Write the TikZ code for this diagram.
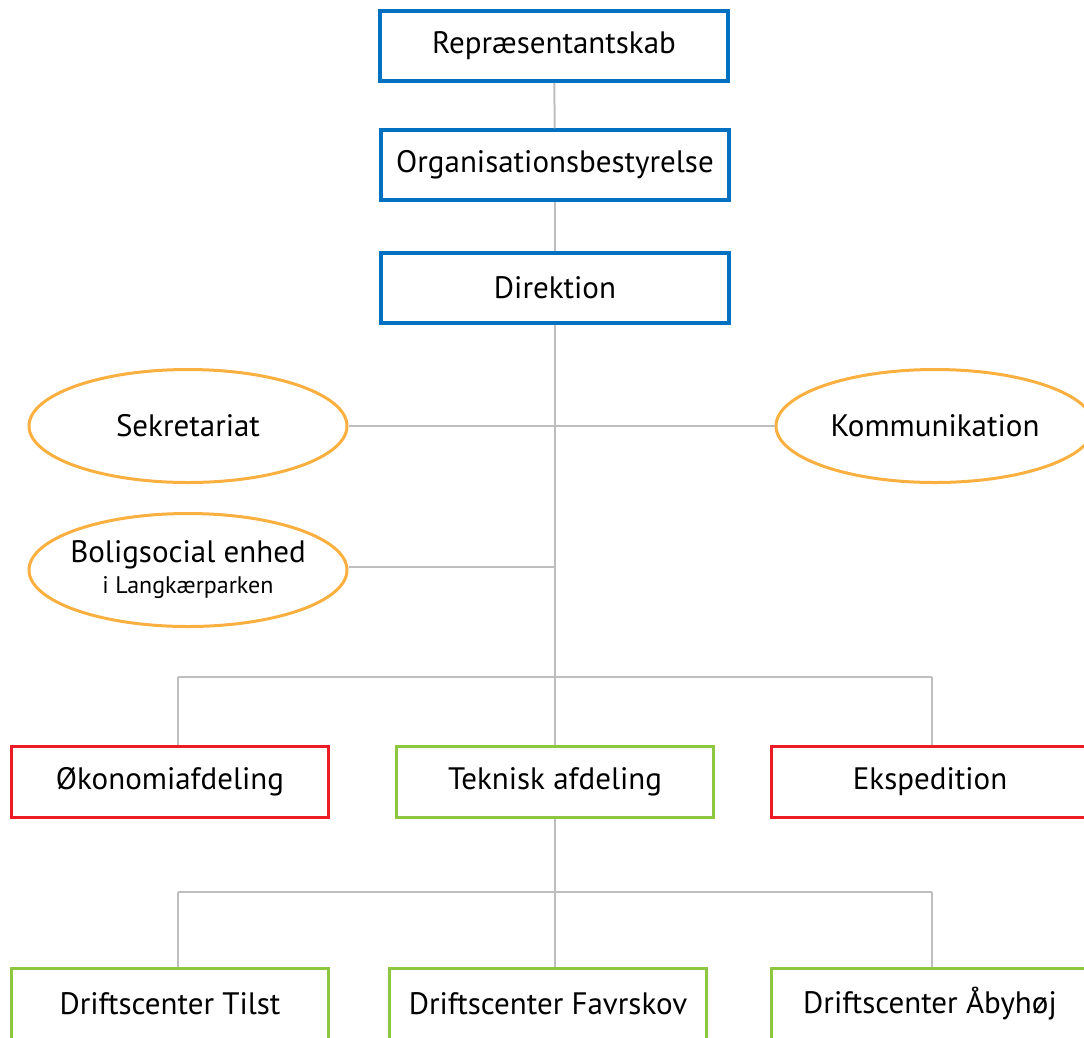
\documentclass[tikz,border=0pt]{standalone}
\usepackage{fontspec}
\setmainfont{PT Sans}
\usetikzlibrary{shapes.geometric}
\definecolor{boardblue}{RGB}{0,112,192}
\definecolor{staffgold}{RGB}{250,176,64}
\definecolor{unitred}{RGB}{237,28,36}
\definecolor{unitgreen}{RGB}{141,198,63}
\definecolor{linegray}{RGB}{190,190,190}

\begin{document}
\begin{tikzpicture}[x=1pt, y=-1pt,
  board/.style = {draw=boardblue, line width=3.5pt, minimum width=348pt, minimum height=70pt, font=\fontsize{31}{36}\selectfont},
  staff/.style = {ellipse, draw=staffgold, line width=3pt, inner xsep=-12pt, minimum width=318pt, minimum height=113pt, align=center, font=\fontsize{31}{36}\selectfont},
  unit/.style  = {draw=#1, line width=3pt, minimum width=317pt, minimum height=71pt, font=\fontsize{31}{36}\selectfont},
  conn/.style  = {draw=linegray, line width=2pt}]
  \clip (0,0) rectangle (1084,1037);
  \useasboundingbox (0,0) rectangle (1084,1037);

  % top of the organisation
  \node[board] (rep) at (554,46)  {Repræsentantskab};
  \node[board] (org) at (555,165) {Organisationsbestyrelse};
  \node[board] (dir) at (555,288) {Direktion};

  % staff functions
  \node[staff] (sek) at (188,426) {Sekretariat};
  \node[staff] (kom) at (935,426) {Kommunikation};
  \node[staff] (bol) at (188,570) {Boligsocial enhed\\[-5pt]{\fontsize{24}{28}\selectfont i Langkærparken}};

  % departments
  \node[unit=unitred]   (oko) at (170,782) {Økonomiafdeling};
  \node[unit=unitgreen] (tek) at (555,782) {Teknisk afdeling};
  \node[unit=unitred]   (eks) at (930,782) {Ekspedition};

  % operation centres
  \node[unit=unitgreen] (til) at (170,1004) {Driftscenter Tilst};
  \node[unit=unitgreen] (fav) at (548,1004) {Driftscenter Favrskov};
  \node[unit=unitgreen] (aab) at (930,1004) {Driftscenter Åbyhøj};

  \coordinate (j2) at (555,567);
  \coordinate (j3) at (555,677);
  \coordinate (l3) at (178,677);
  \coordinate (r3) at (932,677);
  \coordinate (j4) at (555,892);
  \coordinate (l4) at (178,892);
  \coordinate (r4) at (932,892);

  \draw[conn] (rep) -- (org);
  \draw[conn] (org) -- (dir);
  \draw[conn] (dir) -- (j3);
  \draw[conn] (sek) -- (kom);
  \draw[conn] (bol.east |- j2) -- (j2);
  \draw[conn] (l3) -- (r3);
  \draw[conn] (tek) -- (j4);
  \draw[conn] (l4) -- (r4);
  \foreach \c/\n in {l3/oko, j3/tek, r3/eks, l4/til, j4/fav, r4/aab}
    \draw[conn] (\c) -- (\c |- \n.north);
\end{tikzpicture}
\end{document}
